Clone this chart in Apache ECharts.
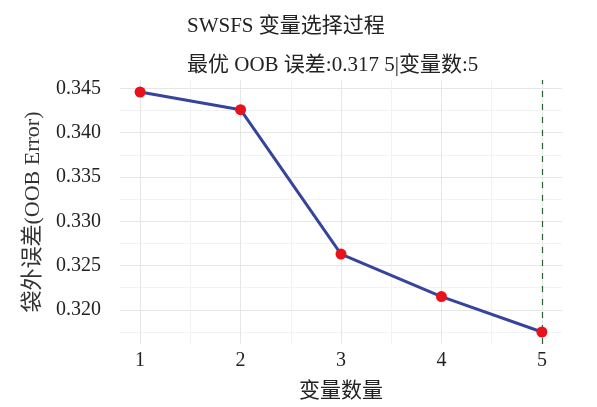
<!DOCTYPE html>
<html>
<head>
<meta charset="utf-8">
<script src="https://cdn.jsdelivr.net/npm/echarts@6/dist/echarts.min.js"></script>
<style>
html,body{margin:0;padding:0;background:#fff;}
#c{width:597px;height:407px;}
</style>
</head>
<body>
<div id="c"></div>
<script>
// ---- data ----
const varCounts = [1, 2, 3, 4, 5];
const oobError = [0.3446, 0.3426, 0.3263, 0.3215, 0.3175];
const bestCount = 5;
const bestError = 0.3175;
const yMajorTicks = [0.320, 0.325, 0.330, 0.335, 0.340, 0.345];
const yMinorTicks = [0.3175, 0.3225, 0.3275, 0.3325, 0.3375, 0.3425];
const xMajorTicks = [1, 2, 3, 4, 5];
const xMinorTicks = [1.5, 2.5, 3.5, 4.5];
const titleText = 'SWSFS 变量选择过程';
const subtitleText = '最优 OOB 误差:0.317 5|变量数:5';
const xName = '变量数量';
const yName = '袋外误差(OOB Error)';

// ggplot-style 5% expansion
const yLo = Math.min(...oobError), yHi = Math.max(...oobError);
const yPad = (yHi - yLo) * 0.05;
const yMin = yLo - yPad, yMax = yHi + yPad;
const xPad = (varCounts[varCounts.length - 1] - varCounts[0]) * 0.05;
const xMin = varCounts[0] - xPad, xMax = varCounts[varCounts.length - 1] + xPad;

const FONT = '"Liberation Serif", "Noto Sans CJK SC", serif';
const chart = echarts.init(document.getElementById('c'), null, {renderer: 'canvas'});

function xAxisDef(ticks, showLabels, lineColor) {
  return {
    type: 'value', min: xMin, max: xMax,
    axisLine: {show: false},
    axisTick: {show: false, customValues: ticks},
    axisLabel: showLabels ? {show: true, customValues: ticks, margin: 7, fontSize: 20, color: '#222', fontFamily: FONT}
                          : {show: false, customValues: ticks},
    splitLine: {show: true, lineStyle: {color: lineColor, width: 1}},
    name: showLabels ? xName : '',
    nameLocation: 'middle', nameGap: 37,
    nameTextStyle: {fontSize: 21, color: '#222', fontFamily: FONT}
  };
}
function yAxisDef(ticks, showLabels, lineColor) {
  return {
    type: 'value', min: yMin, max: yMax,
    axisLine: {show: false},
    axisTick: {show: false, customValues: ticks},
    axisLabel: showLabels ? {show: true, customValues: ticks, margin: 19, fontSize: 20, color: '#222', fontFamily: FONT,
                             formatter: v => v.toFixed(3)}
                          : {show: false, customValues: ticks},
    splitLine: {show: true, lineStyle: {color: lineColor, width: 1}},
    name: showLabels ? yName : '',
    nameLocation: 'middle', nameGap: 76, nameRotate: 90,
    nameTextStyle: {fontSize: 22, color: '#333', fontFamily: FONT}
  };
}

chart.setOption({
  animation: false,
  backgroundColor: '#fff',
  title: [
    {text: titleText, left: 182, top: 11, textStyle: {fontSize: 21, fontWeight: 'normal', color: '#222', fontFamily: FONT}},
    {text: subtitleText, left: 182, top: 50, textStyle: {fontSize: 21, fontWeight: 'normal', color: '#222', fontFamily: FONT}}
  ],
  grid: {left: 120, right: 35, top: 80, bottom: 60, containLabel: false},
  xAxis: [xAxisDef(xMajorTicks, true, '#E6E6E6'), xAxisDef(xMinorTicks, false, '#F2F2F2')],
  yAxis: [yAxisDef(yMajorTicks, true, '#E6E6E6'), yAxisDef(yMinorTicks, false, '#F2F2F2')],
  series: [{
    type: 'line',
    xAxisIndex: 0, yAxisIndex: 0,
    data: varCounts.map((x, i) => [x, oobError[i]]),
    lineStyle: {color: '#36459B', width: 3},
    symbol: 'circle', symbolSize: 11,
    itemStyle: {color: '#E8121B'},
    z: 5,
    markLine: {
      silent: true, symbol: 'none', label: {show: false},
      lineStyle: {color: '#2A5E35', type: [6, 7], width: 1.2},
      data: [{xAxis: bestCount}]
    }
  }]
});
</script>
</body>
</html>
